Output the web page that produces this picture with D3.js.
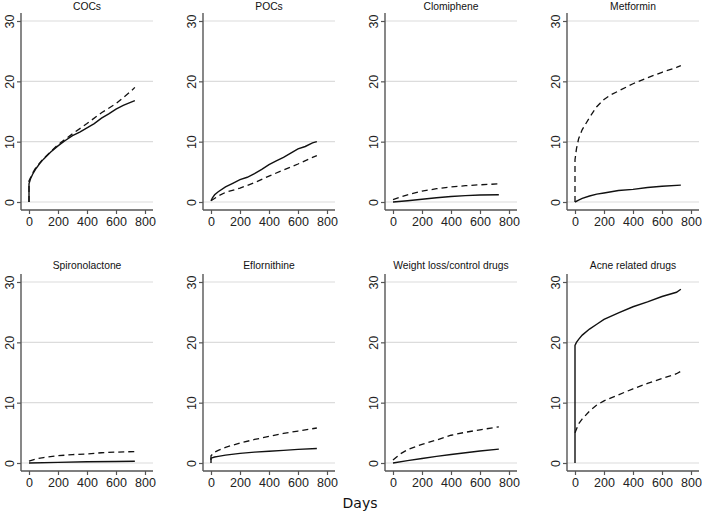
<!DOCTYPE html>
<html><head><meta charset="utf-8">
<script src="https://cdn.jsdelivr.net/npm/d3@7"></script>
<style>
body{margin:0;background:#fff;}
svg{display:block;}
</style></head>
<body>
<svg id="c" width="702" height="515"></svg>
<script>
const titles = ["COCs","POCs","Clomiphene","Metformin","Spironolactone","Eflornithine","Weight loss/control drugs","Acne related drugs"];
const xTicks = [0,200,400,600,800];
const yTicks = [0,10,20,30];
const xLabel = "Days";

// [day, value] pairs, solid series
const solidSeries = [
  [[0,0],[0,3],[10,3.8],[25,4.6],[50,5.6],[75,6.4],[100,7.1],[150,8.3],[200,9.3],[250,10.2],[300,11],[350,11.6],[400,12.3],[450,13],[500,13.9],[550,14.6],[600,15.4],[650,16],[700,16.5],[730,16.8]],
  [[0,0.2],[10,0.7],[25,1.2],[50,1.7],[100,2.5],[150,3.1],[200,3.7],[250,4.1],[300,4.7],[350,5.4],[400,6.2],[450,6.8],[500,7.4],[550,8.1],[600,8.8],[650,9.2],[700,9.8],[730,10]],
  [[0,0],[100,0.2],[200,0.45],[300,0.7],[400,0.9],[500,1.05],[600,1.15],[730,1.2]],
  [[0,0],[25,0.3],[50,0.6],[100,1],[150,1.3],[200,1.5],[300,1.9],[400,2.1],[500,2.4],[600,2.6],[730,2.8]],
  [[0,0],[200,0.1],[400,0.2],[600,0.25],[730,0.3]],
  [[0,0],[0,0.8],[25,1],[50,1.1],[100,1.3],[200,1.6],[300,1.8],[400,1.95],[500,2.1],[600,2.25],[730,2.4]],
  [[0,0],[100,0.4],[200,0.75],[300,1.1],[400,1.4],[500,1.7],[600,2],[730,2.3]],
  [[0,0],[0,19.5],[10,20],[25,20.5],[50,21.2],[100,22.2],[150,23],[200,23.8],[300,24.9],[400,25.9],[500,26.7],[600,27.6],[700,28.3],[730,28.8]]
];
// dashed series
const dashedSeries = [
  [[0,0],[0,3.5],[25,4.8],[50,5.8],[100,7.2],[200,9.5],[300,11.3],[400,13],[500,14.8],[600,16.3],[700,18.3],[730,19]],
  [[0,0.2],[50,1],[100,1.6],[200,2.3],[300,3.2],[400,4.3],[500,5.3],[600,6.3],[700,7.4],[730,7.7]],
  [[0,0.4],[50,0.8],[100,1.2],[200,1.8],[300,2.2],[400,2.5],[500,2.7],[600,2.85],[730,3]],
  [[0,0],[0,7],[10,8.8],[25,10.5],[50,12],[100,14],[150,15.8],[200,17],[250,17.8],[300,18.4],[400,19.6],[500,20.6],[600,21.5],[700,22.3],[730,22.6]],
  [[0,0.3],[50,0.7],[100,0.9],[200,1.2],[300,1.4],[400,1.5],[500,1.7],[600,1.8],[730,1.9]],
  [[0,0.5],[0,1.2],[25,1.8],[50,2.1],[100,2.6],[200,3.3],[300,3.9],[400,4.4],[500,4.9],[600,5.3],[730,5.8]],
  [[0,0.5],[25,1],[50,1.5],[100,2.2],[200,3.1],[300,3.8],[400,4.6],[500,5.1],[600,5.5],[730,6]],
  [[0,5],[25,6.5],[50,7.3],[100,8.6],[150,9.6],[200,10.3],[300,11.3],[400,12.3],[500,13.2],[600,14],[700,14.8],[730,15.2]]
];

const svg = d3.select("#c");
const font = "'Liberation Sans', Arial, sans-serif";

titles.forEach((t, i) => {
  const c = i % 4, r = Math.floor(i / 4);
  const ox = 182 * c, oy = 261 * r;
  const x = d3.scaleLinear().domain([0, 800]).range([29 + ox, 145 + ox]);
  const y = d3.scaleLinear().domain([0, 30]).range([202 + oy, 21 + oy]);
  const g = svg.append("g");
  const axL = 21 + ox, axR = 153 + ox, axT = 13 + oy, axB = 210 + oy;

  // gridlines
  g.selectAll(".grid").data(yTicks).enter().append("line")
    .attr("x1", axL).attr("x2", axR)
    .attr("y1", d => y(d)).attr("y2", d => y(d))
    .attr("stroke", "#dcdcdc").attr("stroke-width", 1.2);

  // y axis
  const ya = g.append("g").attr("transform", `translate(${axL},0)`)
    .call(d3.axisLeft(y).tickValues(yTicks).tickSize(4).tickPadding(3));
  ya.select(".domain").attr("d", `M0,${axT}V${axB}`);
  ya.selectAll(".tick").each(function(d){
    d3.select(this).select("text")
      .attr("x", null).attr("dy", null)
      .attr("transform", "translate(-7,0) rotate(-90)")
      .attr("text-anchor", "middle");
  });

  // x axis
  const xa = g.append("g").attr("transform", `translate(0,${axB})`)
    .call(d3.axisBottom(x).tickValues(xTicks).tickSize(4).tickPadding(3));
  xa.select(".domain").attr("d", `M${axL},0H${axR}`);

  [ya, xa].forEach(a => {
    a.select(".domain").attr("stroke", "#555").attr("stroke-width", 1.4);
    a.selectAll(".tick line").attr("stroke", "#555").attr("stroke-width", 1.2);
    a.selectAll(".tick text").attr("font-family", font).attr("font-size", 12.5).attr("fill", "#222");
  });

  const line = d3.line().x(d => x(d[0])).y(d => y(d[1]));
  g.append("path").attr("d", line(solidSeries[i]))
    .attr("fill", "none").attr("stroke", "#111").attr("stroke-width", 1.4);
  g.append("path").attr("d", line(dashedSeries[i]))
    .attr("fill", "none").attr("stroke", "#111").attr("stroke-width", 1.3)
    .attr("stroke-dasharray", "6,4");

  g.append("text").attr("x", 87 + ox).attr("y", 10 + 259 * r)
    .attr("text-anchor", "middle").attr("font-family", font).attr("font-size", 10.3)
    .attr("fill", "#111").text(t);
});

svg.append("text").attr("x", 360).attr("y", 508).attr("text-anchor", "middle")
  .attr("font-family", "'DejaVu Sans', Verdana, sans-serif").attr("font-size", 14)
  .attr("fill", "#111").text(xLabel);
</script>
</body></html>
